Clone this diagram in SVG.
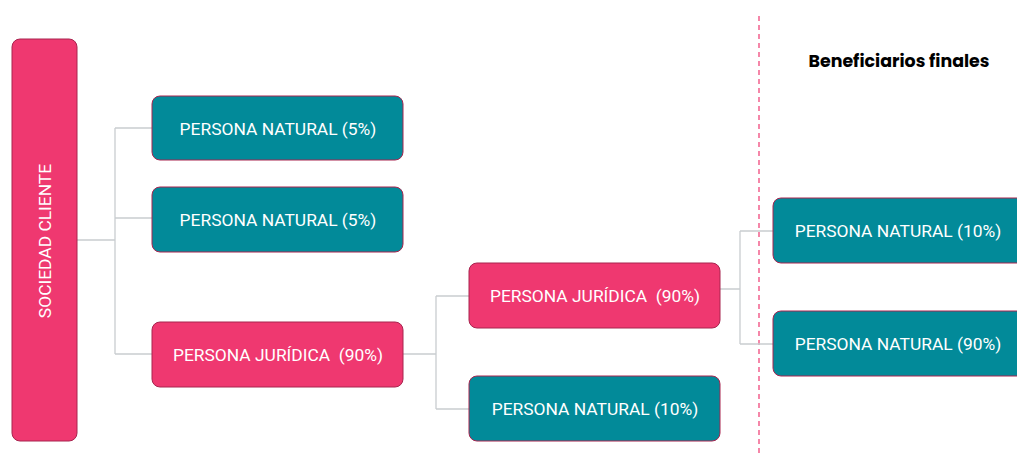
<svg xmlns="http://www.w3.org/2000/svg" width="1017" height="456" viewBox="0 0 1017 456">
<style>
.pink{fill:#EF3870;stroke:#A8244F;stroke-width:1}
.teal{fill:#028A99;stroke:#A8244F;stroke-width:1}
.t{font-family:Roboto,"Liberation Sans",sans-serif;font-size:17.4px;fill:#FFFFFF;text-anchor:middle;dominant-baseline:central}
.c{fill:none;stroke:#C9CDD0;stroke-width:1.3}
.h{font-family:Poppins,Inter,"Liberation Sans",sans-serif;font-size:17.4px;font-weight:bold;fill:#000000;text-anchor:middle}
</style>
<rect width="1017" height="456" fill="#FFFFFF"/>
<line x1="759" y1="16" x2="759" y2="456" stroke="#EF3870" stroke-width="1.2" stroke-dasharray="5,4"/>
<text class="h" x="899" y="67">Beneficiarios finales</text>
<g id="connectors">
<path class="c" d="M77,240 H115 M115,128 V354 M115,128 H152 M115,218 H152 M115,354 H152"/>
<path class="c" d="M403,354 H436 M436,296 V409 M436,296 H469 M436,409 H469"/>
<path class="c" d="M720,289 H740 M740,231 V344 M740,231 H773 M740,344 H773"/>
</g>
<g id="sociedad">
<rect class="pink" x="12" y="39" width="65" height="402" rx="8"/>
<text class="t" transform="translate(45,241) rotate(-90)">SOCIEDAD CLIENTE</text>
</g>
<g id="pn1">
<rect class="teal" x="152" y="96" width="251" height="64" rx="8"/>
<text class="t" x="278" y="129">PERSONA NATURAL (5%)</text>
</g>
<g id="pn2">
<rect class="teal" x="152" y="187" width="251" height="65" rx="8"/>
<text class="t" x="278" y="220">PERSONA NATURAL (5%)</text>
</g>
<g id="pj1">
<rect class="pink" x="152" y="322" width="251" height="65" rx="8"/>
<text class="t" x="278" y="355" xml:space="preserve">PERSONA JURÍDICA  (90%)</text>
</g>
<g id="pj2">
<rect class="pink" x="469" y="263" width="251" height="65" rx="8"/>
<text class="t" x="595" y="296" xml:space="preserve">PERSONA JURÍDICA  (90%)</text>
</g>
<g id="pn3">
<rect class="teal" x="469" y="376" width="251" height="65" rx="8"/>
<text class="t" x="595" y="409">PERSONA NATURAL (10%)</text>
</g>
<g id="pn4">
<rect class="teal" x="773" y="198" width="252" height="65" rx="8"/>
<text class="t" x="898" y="231">PERSONA NATURAL (10%)</text>
</g>
<g id="pn5">
<rect class="teal" x="773" y="311" width="252" height="65" rx="8"/>
<text class="t" x="898" y="344">PERSONA NATURAL (90%)</text>
</g>
</svg>
